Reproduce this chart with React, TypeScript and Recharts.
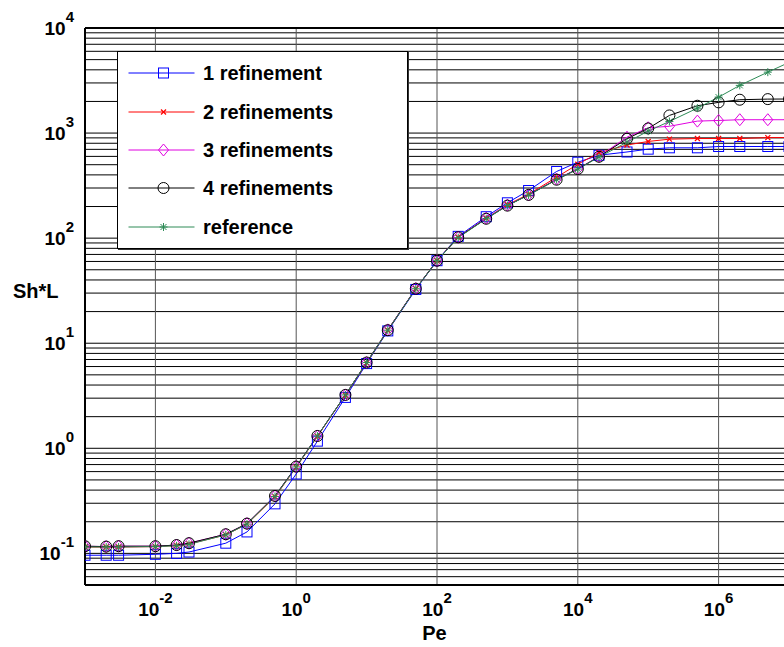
import { LineChart, Line, XAxis, YAxis, CartesianGrid, ReferenceLine } from 'recharts';

const FONT = '"Liberation Sans", Arial, sans-serif';

// Peclet numbers (x)
const peValues = [1e-3, 2e-3, 3e-3, 1e-2, 2e-2, 3e-2, 0.1, 0.2, 0.5, 1, 2, 5, 10, 20, 50, 100, 200, 500, 1e3, 2e3, 5e3, 1e4, 2e4, 5e4, 1e5, 2e5, 5e5, 1e6, 2e6, 5e6, 1e7];

// Sh*L per series
const oneRef = [0.096, 0.096, 0.096, 0.098, 0.1, 0.103, 0.125, 0.16, 0.296, 0.569, 1.17, 3.05, 6.4, 13.1, 32.5, 61, 104, 160, 217, 284, 431, 528, 615, 661, 703, 724, 724, 745, 745, 745, 745];
const twoRef = [0.115, 0.115, 0.115, 0.116, 0.119, 0.123, 0.15, 0.19, 0.345, 0.66, 1.3, 3.2, 6.5, 13.3, 33, 61, 102, 155, 208, 262, 380, 505, 650, 770, 832, 875, 887, 887, 887, 906, 906];
const threeRef = [0.117, 0.116, 0.117, 0.117, 0.12, 0.125, 0.152, 0.192, 0.352, 0.67, 1.31, 3.22, 6.55, 13.4, 33.2, 61, 102, 155, 206, 258, 365, 457, 600, 914, 1123, 1160, 1300, 1318, 1340, 1340, 1340];
const fourRef = [0.117, 0.116, 0.117, 0.117, 0.12, 0.125, 0.152, 0.192, 0.352, 0.67, 1.31, 3.22, 6.55, 13.3, 33, 61, 102, 153, 204, 258, 360, 455, 595, 883, 1107, 1472, 1820, 1960, 2077, 2105, 2110];
const reference = [0.115, 0.115, 0.115, 0.116, 0.118, 0.122, 0.15, 0.19, 0.348, 0.665, 1.31, 3.22, 6.55, 13.3, 33, 61, 101, 153, 204, 257, 360, 455, 590, 819, 1043, 1290, 1727, 2198, 2844, 3800, 4700];

const xTicks = [1e-2, 1, 1e2, 1e4, 1e6];
const yTicks = [
  0.05, 0.06, 0.07, 0.08, 0.09,
  0.1, 0.2, 0.3, 0.4, 0.5, 0.6, 0.7, 0.8, 0.9,
  1, 2, 3, 4, 5, 6, 7, 8, 9,
  10, 20, 30, 40, 50, 60, 70, 80, 90,
  100, 200, 300, 400, 500, 600, 700, 800, 900,
  1000, 2000, 3000, 4000, 5000, 6000, 7000, 8000, 9000,
  10000,
];
const yMajor = [0.1, 1, 10, 100, 1000, 10000];

const data = peValues.map((pe, i) => ({
  pe,
  r1: oneRef[i],
  r2: twoRef[i],
  r3: threeRef[i],
  r4: fourRef[i],
  ref: reference[i],
}));

const BLUE = '#0000ff';
const RED = '#ff0000';
const MAGENTA = '#e000e0';
const BLACK = '#000000';
const GREEN = '#2e8b57';

function Marker({ kind, cx, cy, color }: { kind: string; cx: number; cy: number; color: string }) {
  switch (kind) {
    case 'square':
      return <rect x={cx - 5} y={cy - 5} width={10} height={10} fill="none" stroke={color} strokeWidth={1} />;
    case 'x':
      return (
        <g stroke={color} strokeWidth={1.2}>
          <line x1={cx - 2.5} y1={cy - 2.5} x2={cx + 2.5} y2={cy + 2.5} />
          <line x1={cx - 2.5} y1={cy + 2.5} x2={cx + 2.5} y2={cy - 2.5} />
        </g>
      );
    case 'diamond':
      return (
        <polygon
          points={`${cx},${cy - 6} ${cx + 5},${cy} ${cx},${cy + 6} ${cx - 5},${cy}`}
          fill="none"
          stroke={color}
          strokeWidth={1}
        />
      );
    case 'circle':
      return <circle cx={cx} cy={cy} r={5.5} fill="none" stroke={color} strokeWidth={1} />;
    default:
      return (
        <g stroke={color} strokeWidth={1}>
          <line x1={cx} y1={cy - 4} x2={cx} y2={cy + 4} />
          <line x1={cx - 4} y1={cy} x2={cx + 4} y2={cy} />
          <line x1={cx - 3} y1={cy - 3} x2={cx + 3} y2={cy + 3} />
          <line x1={cx - 3} y1={cy + 3} x2={cx + 3} y2={cy - 3} />
        </g>
      );
  }
}

const makeDot = (kind: string, color: string) => (props: any) => {
  const { cx, cy, index } = props;
  if (cx == null || cy == null) return <g key={index} />;
  return (
    <g key={index}>
      <Marker kind={kind} cx={cx} cy={cy} color={color} />
    </g>
  );
};

const series = [
  { key: 'r1', name: '1 refinement', color: BLUE, kind: 'square' },
  { key: 'r2', name: '2 refinements', color: RED, kind: 'x' },
  { key: 'r3', name: '3 refinements', color: MAGENTA, kind: 'diamond' },
  { key: 'r4', name: '4 refinements', color: BLACK, kind: 'circle' },
  { key: 'ref', name: 'reference', color: GREEN, kind: 'star' },
];

const XTick = (props: any) => {
  const { x, payload } = props;
  const e = Math.round(Math.log10(payload.value));
  return (
    <text x={x} y={616} textAnchor="middle" fontFamily={FONT} fontWeight="bold" fill="#000">
      <tspan fontSize={19}>10</tspan>
      <tspan fontSize={15} dy={-13}>{e}</tspan>
    </text>
  );
};

const YTick = (props: any) => {
  const { y, payload } = props;
  if (!yMajor.includes(payload.value)) return <g />;
  const e = Math.round(Math.log10(payload.value));
  return (
    <text x={74} y={y + 7} textAnchor="end" fontFamily={FONT} fontWeight="bold" fill="#000">
      <tspan fontSize={19}>10</tspan>
      <tspan fontSize={15} dy={-13}>{e}</tspan>
    </text>
  );
};

function LegendBox() {
  return (
    <div
      style={{
        position: 'absolute',
        left: 117,
        top: 51,
        width: 291,
        height: 198,
        boxSizing: 'border-box',
        border: '1px solid #000',
        boxShadow: '1px 1px 0 #333',
        background: '#fff',
        display: 'flex',
        flexDirection: 'column',
        justifyContent: 'center',
        fontFamily: FONT,
        fontWeight: 'bold',
        fontSize: 20,
      }}
    >
      {series.map((s) => (
        <div key={s.key} style={{ height: 38.3, display: 'flex', alignItems: 'center' }}>
          <svg width={85} height={16} style={{ flex: 'none' }}>
            <line x1={10.5} y1={8} x2={76.5} y2={8} stroke={s.color} strokeWidth={1} />
            <Marker kind={s.kind} cx={45.5} cy={8} color={s.color} />
          </svg>
          <span style={{ lineHeight: '20px', whiteSpace: 'nowrap' }}>{s.name}</span>
        </div>
      ))}
    </div>
  );
}

export default function App() {
  return (
    <div style={{ position: 'absolute', left: 0, top: 0, width: 784, height: 647, overflow: 'hidden', background: '#fff' }}>
      <LineChart width={880} height={647} data={data} margin={{ top: 28, right: 20.6, left: 0, bottom: 0 }}>
        <CartesianGrid horizontal vertical={false} stroke="#000" strokeWidth={1} />
        <CartesianGrid horizontal={false} vertical stroke="#555" strokeWidth={1} />
        <XAxis
          dataKey="pe"
          type="number"
          scale="log"
          domain={[1e-3, 1e8]}
          allowDataOverflow
          ticks={xTicks}
          interval={0}
          tick={<XTick />}
          tickLine={false}
          axisLine={{ stroke: '#000', strokeWidth: 2 }}
          height={62}
        />
        <YAxis
          type="number"
          scale="log"
          domain={[0.05, 10000]}
          allowDataOverflow
          ticks={yTicks}
          interval={0}
          tick={<YTick />}
          tickLine={false}
          axisLine={{ stroke: '#000', strokeWidth: 2 }}
          width={85}
        />
        <ReferenceLine y={10000} stroke="#000" strokeWidth={2} />
        {series.map((s) => (
          <Line
            key={s.key}
            dataKey={s.key}
            name={s.name}
            stroke={s.color}
            strokeWidth={1}
            dot={makeDot(s.kind, s.color)}
            activeDot={false}
            isAnimationActive={false}
          />
        ))}
      </LineChart>
      <div
        style={{
          position: 'absolute',
          left: 13,
          top: 281,
          fontFamily: FONT,
          fontWeight: 'bold',
          fontSize: 20,
          lineHeight: '20px',
          whiteSpace: 'nowrap',
        }}
      >
        Sh*L
      </div>
      <div
        style={{
          position: 'absolute',
          left: 384.5,
          width: 100,
          textAlign: 'center',
          top: 623,
          fontFamily: FONT,
          fontWeight: 'bold',
          fontSize: 20,
          lineHeight: '20px',
        }}
      >
        Pe
      </div>
      <LegendBox />
    </div>
  );
}
